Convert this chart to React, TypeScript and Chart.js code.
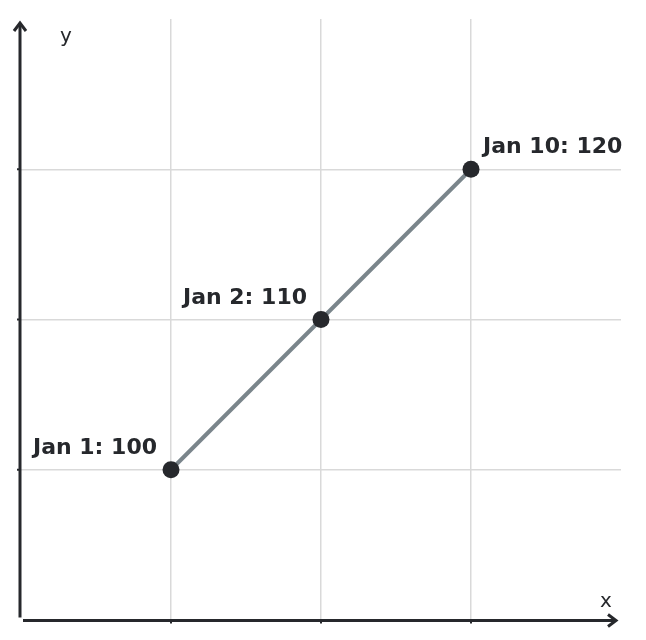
import { useEffect, useRef } from 'react';
import Chart, { ChartConfiguration, Plugin } from 'chart.js/auto';

const labels = ['Jan 1', 'Jan 2', 'Jan 10'];
const positions = [1, 2, 3];
const values = [100, 110, 120];
const xTicks = [1, 2, 3];
const yTicks = [100, 110, 120];

const INK = '#26282c';

// axes with arrow heads, tick marks, axis letters and point labels
const decorations: Plugin<'line'> = {
  id: 'decorations',
  afterDatasetsDraw(chart) {
    const { ctx, chartArea } = chart;
    const xs = chart.scales.x;
    const ys = chart.scales.y;
    const left = chartArea.left - 1;
    const bottom = chartArea.bottom + 0.5;
    ctx.save();
    ctx.strokeStyle = INK;
    ctx.lineWidth = 3;
    ctx.lineCap = 'butt';

    // y axis
    ctx.beginPath();
    ctx.moveTo(left, bottom - 3);
    ctx.lineTo(left, chartArea.top + 4);
    ctx.stroke();
    ctx.beginPath();
    ctx.moveTo(left - 6, chartArea.top + 12);
    ctx.lineTo(left, chartArea.top + 4);
    ctx.lineTo(left + 6, chartArea.top + 12);
    ctx.stroke();

    // x axis
    ctx.beginPath();
    ctx.moveTo(left + 3, bottom);
    ctx.lineTo(chartArea.right - 5, bottom);
    ctx.stroke();
    ctx.beginPath();
    ctx.moveTo(chartArea.right - 13, bottom - 6);
    ctx.lineTo(chartArea.right - 5, bottom);
    ctx.lineTo(chartArea.right - 13, bottom + 6);
    ctx.stroke();

    // tick marks
    ctx.lineWidth = 2;
    xTicks.forEach((v) => {
      const px = xs.getPixelForValue(v);
      ctx.beginPath();
      ctx.moveTo(px, bottom);
      ctx.lineTo(px, bottom + 3);
      ctx.stroke();
    });
    yTicks.forEach((v) => {
      const py = ys.getPixelForValue(v);
      ctx.beginPath();
      ctx.moveTo(left - 3, py);
      ctx.lineTo(left, py);
      ctx.stroke();
    });

    // axis letters
    ctx.fillStyle = INK;
    ctx.font = '20px "DejaVu Sans"';
    ctx.textBaseline = 'alphabetic';
    ctx.textAlign = 'left';
    ctx.fillText('y', left + 40, chartArea.top + 23);
    ctx.fillText('x', chartArea.right - 21, bottom - 14);

    // point labels
    ctx.font = 'bold 22px "DejaVu Sans"';
    const meta = chart.getDatasetMeta(0);
    meta.data.forEach((pt, i) => {
      const text = `${labels[i]}: ${values[i]}`;
      const last = i === meta.data.length - 1;
      ctx.textAlign = last ? 'left' : 'right';
      const tx = last ? pt.x + 12 : pt.x - 14;
      ctx.fillText(text, tx, pt.y - 16);
    });
    ctx.restore();
  },
};

const App = () => {
  const chartRef = useRef<HTMLCanvasElement>(null);
  const chartInstance = useRef<Chart | null>(null);

  useEffect(() => {
    if (chartInstance.current) {
      chartInstance.current.destroy();
    }

    const config: ChartConfiguration<'line', { x: number; y: number }[], string> = {
      type: 'line',
      data: {
        datasets: [
          {
            data: positions.map((p, i) => ({ x: p, y: values[i] })),
            borderColor: '#7a858b',
            borderWidth: 4,
            pointRadius: 8.5,
            pointBackgroundColor: INK,
            pointBorderColor: INK,
            pointBorderWidth: 0,
            tension: 0,
          },
        ],
      },
      options: {
        animation: false,
        responsive: false,
        maintainAspectRatio: false,
        layout: { padding: { left: 21, right: 25, top: 19, bottom: 20 } },
        plugins: {
          legend: { display: false },
          tooltip: { enabled: false },
        },
        scales: {
          x: {
            type: 'linear',
            min: 0,
            max: 4,
            afterBuildTicks: (scale) => {
              scale.ticks = xTicks.map((v) => ({ value: v }));
            },
            ticks: { display: false },
            border: { display: false },
            grid: { color: '#d9d9d9', lineWidth: 1.5, drawTicks: false },
          },
          y: {
            type: 'linear',
            min: 90,
            max: 130,
            afterBuildTicks: (scale) => {
              scale.ticks = yTicks.map((v) => ({ value: v }));
            },
            ticks: { display: false },
            border: { display: false },
            grid: { color: '#d9d9d9', lineWidth: 1.5, drawTicks: false },
          },
        },
      },
      plugins: [decorations],
    };

    if (chartRef.current) {
      const ctx = chartRef.current.getContext('2d');
      if (ctx) {
        chartInstance.current = new Chart(ctx, config);
      }
    }

    return () => {
      if (chartInstance.current) {
        chartInstance.current.destroy();
      }
    };
  }, []);

  return (
    <div style={{ position: 'fixed', left: 0, top: 0, width: 646, height: 640, background: '#fff' }}>
      <canvas ref={chartRef} width={646} height={640}></canvas>
    </div>
  );
};

export default App;
